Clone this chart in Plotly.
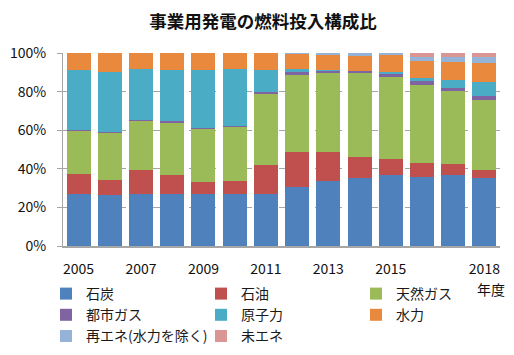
import plotly.graph_objects as go

years = [str(y) for y in range(2005, 2019)]
tick_years = ["2005", "2007", "2009", "2011", "2013", "2015", "2018"]

coal    = [27.0, 26.2, 26.9, 26.9, 26.9, 26.9, 26.9, 30.4, 33.8, 35.4, 36.6, 35.9, 36.6, 35.4]
oil     = [10.1,  8.2, 12.3, 10.2,  6.1,  6.8, 14.9, 18.3, 14.9, 10.6,  8.6,  7.3,  5.9,  3.8]
lng     = [22.6, 24.5, 25.9, 27.3, 28.0, 28.0, 37.3, 39.9, 40.8, 43.5, 42.2, 40.1, 38.0, 36.6]
citygas = [ 0.3,  0.4,  0.4,  0.4,  0.4,  0.4,  0.5,  1.4,  1.3,  1.2,  2.2,  2.0,  1.2,  2.1]
nuclear = [31.2, 30.9, 26.4, 26.8, 29.8, 29.8, 11.6,  1.9,  0.3,  0.0,  0.4,  1.9,  4.2,  7.2]
hydro   = [ 8.8,  9.8,  8.1,  8.8,  8.8,  8.1,  8.8,  7.9,  7.8,  7.9,  8.8,  8.8,  9.4,  9.6]
renew   = [ 0.0,  0.0,  0.0,  0.0,  0.0,  0.0,  0.0,  0.2,  1.1,  1.4,  1.2,  2.1,  2.8,  3.4]
unused  = [ 0.0,  0.0,  0.0,  0.0,  0.0,  0.0,  0.0,  0.0,  0.0,  0.0,  0.0,  1.9,  1.9,  1.9]

series_names = ["石炭", "石油", "天然ガス", "都市ガス", "原子力", "水力", "再エネ(水力を除く)", "未エネ"]
series_values = [coal, oil, lng, citygas, nuclear, hydro, renew, unused]
colors = ["#4F81BD", "#C0504D", "#9BBB59", "#8064A2", "#4BACC6", "#E9893D", "#95B3D7", "#D99694"]

FONT = "Noto Sans CJK JP"
# The page body adds an 8px margin, so the figure is sized to fill the rest of the 514x355 window.
W, H = 506, 347
L, R, T, B = 55, 14, 45, 109
PW, PH = W - L - R, H - T - B

fig = go.Figure()
for name, vals, col in zip(series_names, series_values, colors):
    fig.add_trace(go.Bar(x=years, y=vals, name=name, marker=dict(color=col, line=dict(width=0))))

fig.update_layout(
    width=W, height=H,
    barmode="stack", barnorm="percent", bargap=0.23,
    paper_bgcolor="white", plot_bgcolor="white",
    margin=dict(l=L, r=R, t=T, b=B, autoexpand=False),
    font=dict(family=FONT, color="#1a1a1a", size=13),
    title=dict(text="<b>事業用発電の燃料投入構成比</b>", x=255 / W, xanchor="center", xref="container",
               y=1 - 13.5 / H, yanchor="middle", font=dict(size=17.5, family=FONT, color="#111")),
    showlegend=True,
    legend=dict(orientation="h", xref="paper", yref="paper",
                x=(38 - L) / PW, xanchor="left", y=(PH + T - 270) / PH, yanchor="top",
                traceorder="normal", entrywidth=110, entrywidthmode="pixels",
                itemwidth=30, font=dict(size=14, family=FONT, color="#1a1a1a"),
                tracegroupgap=0, bgcolor="rgba(0,0,0,0)"),
)

fig.update_xaxes(
    type="category", tickmode="array", tickvals=tick_years, ticktext=tick_years,
    showline=True, linecolor="#a6a6a6", linewidth=1.5, ticks="", ticklabelstandoff=9,
    tickfont=dict(size=14, family=FONT, color="#111"), showgrid=False,
)
fig.update_yaxes(
    range=[0, 100], dtick=20, ticksuffix="%",
    showline=True, linecolor="#a6a6a6", linewidth=1,
    ticks="outside", ticklen=5, tickcolor="#a6a6a6", ticklabelstandoff=8,
    showgrid=True, gridcolor="#a6a6a6", griddash="dash", gridwidth=1,
    tickfont=dict(size=14, family=FONT, color="#111"), zeroline=False,
)

fig.add_annotation(text="年度", xref="paper", yref="paper", x=0.979, y=-0.222,
                   xanchor="center", yanchor="middle", showarrow=False,
                   font=dict(size=14, family=FONT, color="#111"))

fig.write_html("out.html")
